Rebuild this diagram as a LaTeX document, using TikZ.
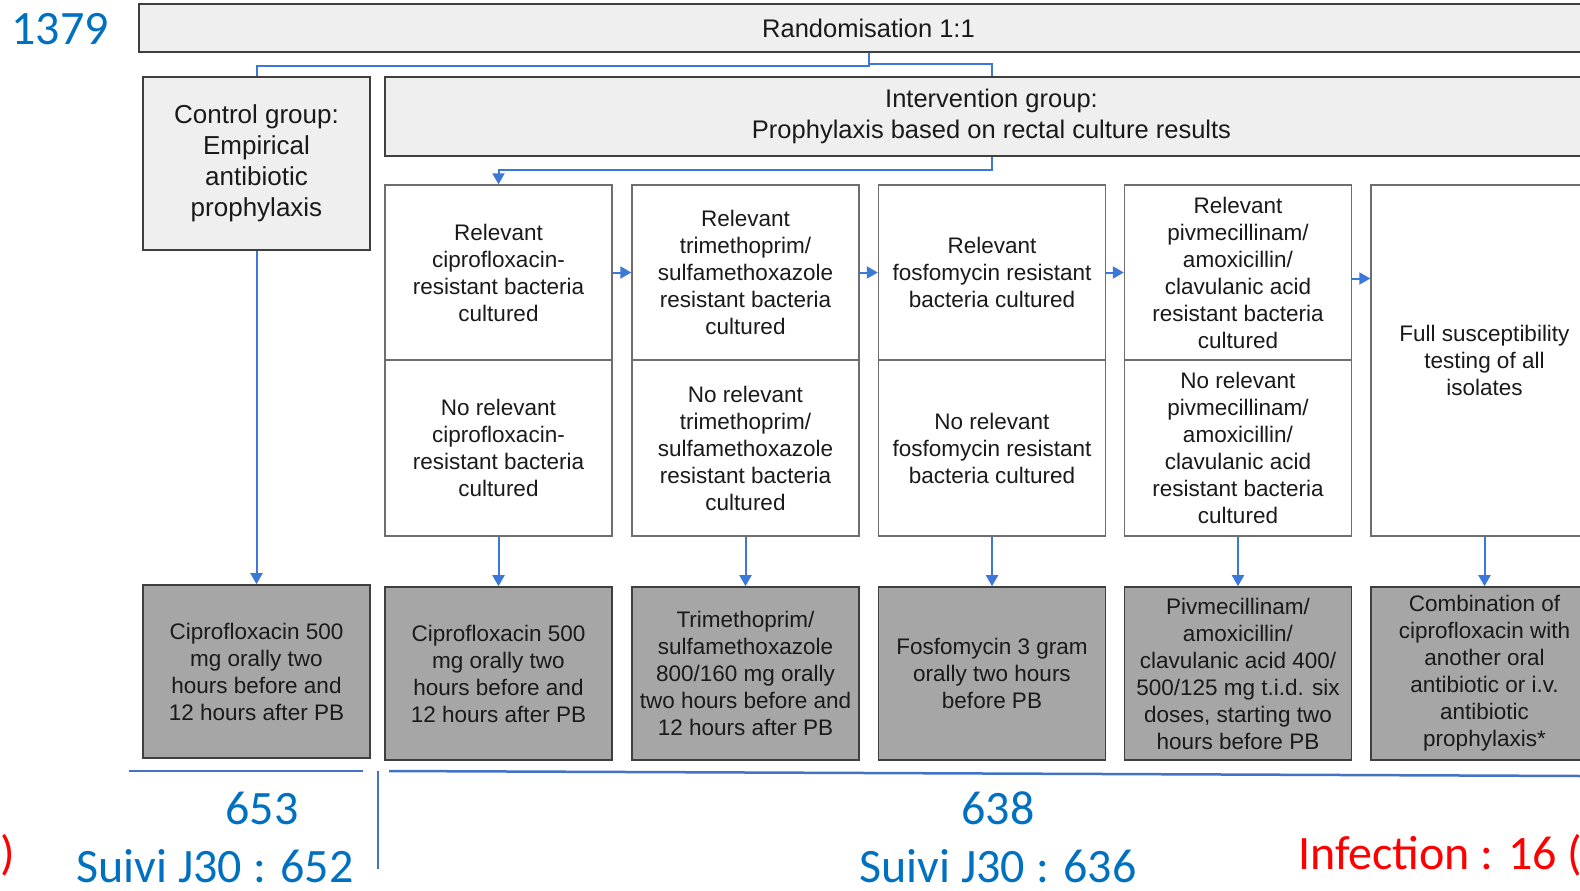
\documentclass[tikz,border=0pt]{standalone}
\usepackage{fontspec}
\setmainfont{Liberation Sans}
\newfontfamily\calfont{Carlito}
\usetikzlibrary{arrows.meta}
\definecolor{boxgray}{HTML}{EFEFEF}
\definecolor{treatgray}{HTML}{A6A6A6}
\definecolor{edgedark}{HTML}{3F3F3F}
\definecolor{edgelight}{HTML}{6E6E6E}
\definecolor{arrowblue}{HTML}{3C78D8}
\definecolor{lineblue}{HTML}{4472C4}
\definecolor{numblue}{HTML}{0070C0}
\definecolor{txt}{HTML}{1A1A1A}
\begin{document}
\begin{tikzpicture}[x=1pt,y=-1pt,
  base/.style={inner sep=0pt, align=center, text=txt, font=\fontsize{22.5}{27}\selectfont},
  headbox/.style={base, draw=edgedark, line width=1.8pt, fill=boxgray, font=\fontsize{25.5}{31}\selectfont},
  colbox/.style={base, draw=edgelight, line width=1.4pt, fill=white, minimum width=227pt},
  treatbox/.style={base, draw=edgedark, line width=1.6pt, fill=treatgray, minimum width=227pt, minimum height=173pt},
  link/.style={draw=arrowblue, line width=2pt},
  arr/.style={link, -{Triangle[length=11pt,width=12pt]}},
  bline/.style={draw=lineblue, line width=2.5pt},
  big/.style={inner sep=0pt, font=\calfont\fontsize{48}{58}\selectfont, text=numblue},
]
\useasboundingbox (0,0) rectangle (1580,891);
\clip (0,0) rectangle (1580,891);

% header boxes
\node[headbox, minimum width=1459pt, minimum height=48pt] (rand) at (868.5,28) {Randomisation 1:1};
\node[headbox, font=\fontsize{26}{31}\selectfont, minimum width=227pt, minimum height=173pt] (control) at (256.5,163.5)
  {Control group:\\Empirical\\antibiotic\\prophylaxis};
\node[headbox, minimum width=1213pt, minimum height=79pt] (interv) at (991.5,116.5)
  {Intervention group:\\Prophylaxis based on rectal culture results};

% culture result boxes (top row)
\node[colbox, minimum height=175pt] (c1top) at (498.5,272.5) {Relevant\\ciprofloxacin-\\resistant bacteria\\cultured};
\node[colbox, minimum height=175pt] (c2top) at (745.5,272.5) {Relevant\\trimethoprim/\\sulfamethoxazole\\resistant bacteria\\cultured};
\node[colbox, minimum height=175pt] (c3top) at (992,272.5) {Relevant\\fosfomycin resistant\\bacteria cultured};
\node[colbox, minimum height=175pt] (c4top) at (1238,272.5) {Relevant\\pivmecillinam/\\amoxicillin/\\clavulanic acid\\resistant bacteria\\cultured};
\node[colbox, minimum height=351pt] (c5) at (1484.5,360.5) {Full susceptibility\\testing of all\\isolates};

% culture result boxes (middle row)
\node[colbox, minimum height=176pt] (c1mid) at (498.5,448) {No relevant\\ciprofloxacin-\\resistant bacteria\\cultured};
\node[colbox, minimum height=176pt] (c2mid) at (745.5,448) {No relevant\\trimethoprim/\\sulfamethoxazole\\resistant bacteria\\cultured};
\node[colbox, minimum height=176pt] (c3mid) at (992,448) {No relevant\\fosfomycin resistant\\bacteria cultured};
\node[colbox, minimum height=176pt] (c4mid) at (1238,448) {No relevant\\pivmecillinam/\\amoxicillin/\\clavulanic acid\\resistant bacteria\\cultured};

% treatment boxes
\node[treatbox] (ctreat) at (256.5,671.5) {Ciprofloxacin 500\\mg orally two\\hours before and\\12 hours after PB};
\node[treatbox] (t1) at (498.5,673.5) {Ciprofloxacin 500\\mg orally two\\hours before and\\12 hours after PB};
\node[treatbox] (t2) at (745.5,673.5) {Trimethoprim/\\sulfamethoxazole\\800/160 mg orally\\two hours before and\\12 hours after PB};
\node[treatbox] (t3) at (992,673.5) {Fosfomycin 3 gram\\orally two hours\\before PB};
\node[treatbox] (t4) at (1238,673.5) {Pivmecillinam/\\amoxicillin/\\clavulanic acid 400/\\500/125 mg t.i.d. six\\doses, starting two\\hours before PB};
\node[treatbox] (t5) at (1484.5,673.5) {Combination of\\ciprofloxacin with\\another oral\\antibiotic or i.v.\\antibiotic\\prophylaxis*};

% connectors
\draw[link] (control.north) |- ([yshift=-13pt]rand.south) -- (rand.south);
\draw[link] ([yshift=-11pt]rand.south) -| (interv.north);
\draw[arr] (interv.south) -- ++(0,13) -| (c1top.north);
\draw[arr] (control.south) -- (ctreat.north);
\draw[arr] (c1top.east) -- (c2top.west);
\draw[arr] (c2top.east) -- (c3top.west);
\draw[arr] (c3top.east) -- (c4top.west);
\draw[arr] ([yshift=-6pt]c4top.east) -- ([yshift=-6pt]c4top.east -| c5.west);
\draw[arr] (c1mid.south) -- (t1.north);
\draw[arr] (c2mid.south) -- (t2.north);
\draw[arr] (c3mid.south) -- (t3.north);
\draw[arr] (c4mid.south) -- (t4.north);
\draw[arr] (c5.south) -- (t5.north);

% bottom brackets
\draw[bline] (129,771) -- (363,771);
\draw[bline] (378,771) -- (378,869);
\draw[bline] (389,771) -- (1580,776);

% annotations
\node[big] (n1379) at (60,29) {1379};
\node[big, anchor=base] (n653) at (262,824) {653};
\node[big, anchor=base] (s652) at (215,882) {Suivi J30 : 652};
\node[big, anchor=base] (n638) at (998,824) {638};
\node[big, anchor=base] (s636) at (998,882) {Suivi J30 : 636};
\node[big, text=red, anchor=base west] (inf) at (1298,869) {Infection : 16 (};
\node[big, text=red, anchor=base east] (paren) at (15,869) {)};
\end{tikzpicture}
\end{document}
